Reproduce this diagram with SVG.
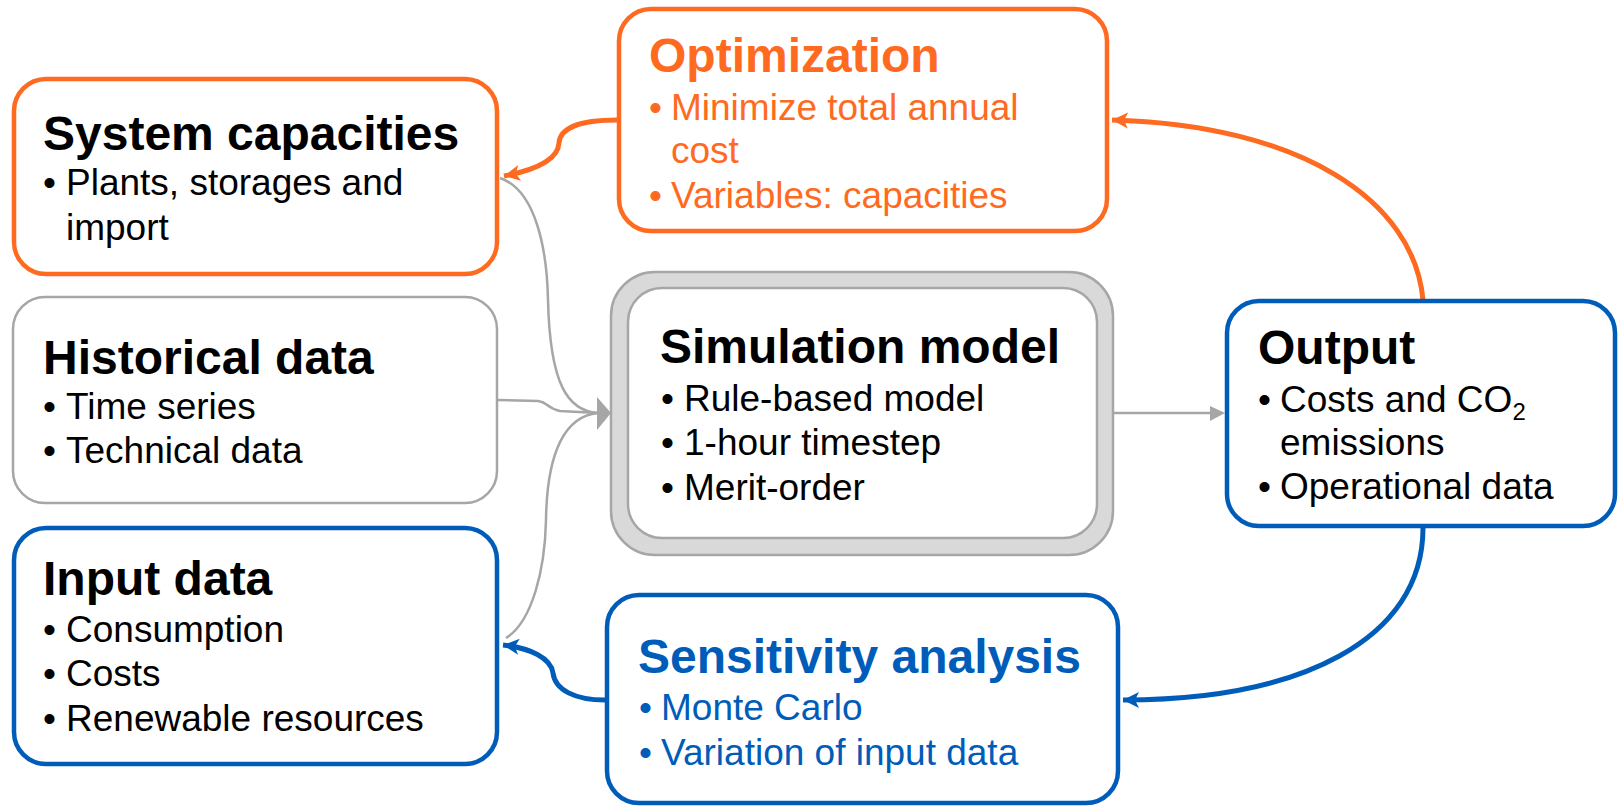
<svg xmlns="http://www.w3.org/2000/svg" width="1619" height="806" viewBox="0 0 1619 806">
<defs>
<style>
.t{font-family:"Liberation Sans",Arial,sans-serif;font-size:48px;font-weight:bold;fill:#000}
.b{font-family:"Liberation Sans",Arial,sans-serif;font-size:37px;fill:#000}
.or{fill:#FF6A21}
.bl{fill:#005CB9}
.box{fill:#fff;stroke-width:4.5}
.obox{stroke:#FF6A21}
.bbox{stroke:#005CB9}
.gbox{stroke:#A6A6A6;stroke-width:2.5}
.cg{fill:none;stroke:#A6A6A6;stroke-width:2.5}
.co{fill:none;stroke:#FF6A21;stroke-width:5}
.cb{fill:none;stroke:#005CB9;stroke-width:5}
</style>
<marker id="ao" markerUnits="userSpaceOnUse" markerWidth="18" markerHeight="18" refX="16" refY="9" orient="auto"><path d="M0,1 L16,9 L0,17 L4,9 Z" fill="#FF6A21"/></marker>
<marker id="ab" markerUnits="userSpaceOnUse" markerWidth="18" markerHeight="18" refX="16" refY="9" orient="auto"><path d="M0,1 L16,9 L0,17 L4,9 Z" fill="#005CB9"/></marker>
</defs>
<rect width="1619" height="806" fill="#fff"/>

<g id="connectors">
<path class="cg" d="M500 178 C536 190 547 250 548 300 C550 385 568 411 598 413"/>
<path class="cg" d="M497 400 L538 401 C548 402 546 408 560 411 L598 413"/>
<path class="cg" d="M506 638 C532 622 545 570 546 520 C547 450 566 416 598 413"/>
<polygon points="597,397 611,413 597,430" fill="#A6A6A6"/>
<path class="cg" d="M1113 413 L1212 413"/>
<polygon points="1210,406 1225,413 1210,421" fill="#A6A6A6"/>
<path class="co" d="M617 120 C580 120 560 128 559 143 C558 160 535 170 504 176" marker-end="url(#ao)"/>
<path class="co" d="M1423 300 C1414 200 1300 125 1112 120" marker-end="url(#ao)"/>
<path class="cb" d="M1423 528 C1423 640 1300 700 1123 700" marker-end="url(#ab)"/>
<path class="cb" d="M605 700 C575 700 555 690 553 673 C551 658 530 648 503 645" marker-end="url(#ab)"/>
</g>

<g id="system-capacities">
<rect class="box obox" x="14" y="79" width="483" height="195" rx="32"/>
<text class="t" x="43" y="150">System capacities</text>
<text class="b" y="195"><tspan x="43">•</tspan><tspan x="66">Plants, storages and</tspan></text>
<text class="b" x="66" y="240">import</text>
</g>

<g id="historical-data">
<rect class="box gbox" x="13" y="297" width="484" height="206" rx="32"/>
<text class="t" x="43" y="374">Historical data</text>
<text class="b" y="419"><tspan x="43">•</tspan><tspan x="66">Time series</tspan></text>
<text class="b" y="463"><tspan x="43">•</tspan><tspan x="66">Technical data</tspan></text>
</g>

<g id="input-data">
<rect class="box bbox" x="14" y="528" width="483" height="236" rx="32"/>
<text class="t" x="43" y="595">Input data</text>
<text class="b" y="642"><tspan x="43">•</tspan><tspan x="66">Consumption</tspan></text>
<text class="b" y="686"><tspan x="43">•</tspan><tspan x="66">Costs</tspan></text>
<text class="b" y="731"><tspan x="43">•</tspan><tspan x="66">Renewable resources</tspan></text>
</g>

<g id="optimization">
<rect class="box obox" x="619" y="9" width="488" height="222" rx="32"/>
<text class="t or" x="649" y="72">Optimization</text>
<text class="b or" y="120"><tspan x="649">•</tspan><tspan x="671">Minimize total annual</tspan></text>
<text class="b or" x="671" y="163">cost</text>
<text class="b or" y="208"><tspan x="649">•</tspan><tspan x="671">Variables: capacities</tspan></text>
</g>

<g id="simulation-model">
<rect x="611" y="272" width="502" height="283" rx="44" fill="#D9D9D9" stroke="#A6A6A6" stroke-width="2.5"/>
<rect x="628" y="288" width="469" height="250" rx="34" fill="#fff" stroke="#A6A6A6" stroke-width="2.5"/>
<text class="t" x="660" y="363">Simulation model</text>
<text class="b" y="411"><tspan x="661">•</tspan><tspan x="684">Rule-based model</tspan></text>
<text class="b" y="455"><tspan x="661">•</tspan><tspan x="684">1-hour timestep</tspan></text>
<text class="b" y="500"><tspan x="661">•</tspan><tspan x="684">Merit-order</tspan></text>
</g>

<g id="output">
<rect class="box bbox" x="1227" y="301" width="388" height="225" rx="32"/>
<text class="t" x="1258" y="364">Output</text>
<text class="b" y="412"><tspan x="1258">•</tspan><tspan x="1280">Costs and CO</tspan><tspan font-size="24" dy="8">2</tspan></text>
<text class="b" x="1280" y="455">emissions</text>
<text class="b" y="499"><tspan x="1258">•</tspan><tspan x="1280">Operational data</tspan></text>
</g>

<g id="sensitivity-analysis">
<rect class="box bbox" x="607" y="595" width="511" height="208" rx="32"/>
<text class="t bl" x="638" y="673">Sensitivity analysis</text>
<text class="b bl" y="720"><tspan x="639">•</tspan><tspan x="661">Monte Carlo</tspan></text>
<text class="b bl" y="765"><tspan x="639">•</tspan><tspan x="661">Variation of input data</tspan></text>
</g>
</svg>
